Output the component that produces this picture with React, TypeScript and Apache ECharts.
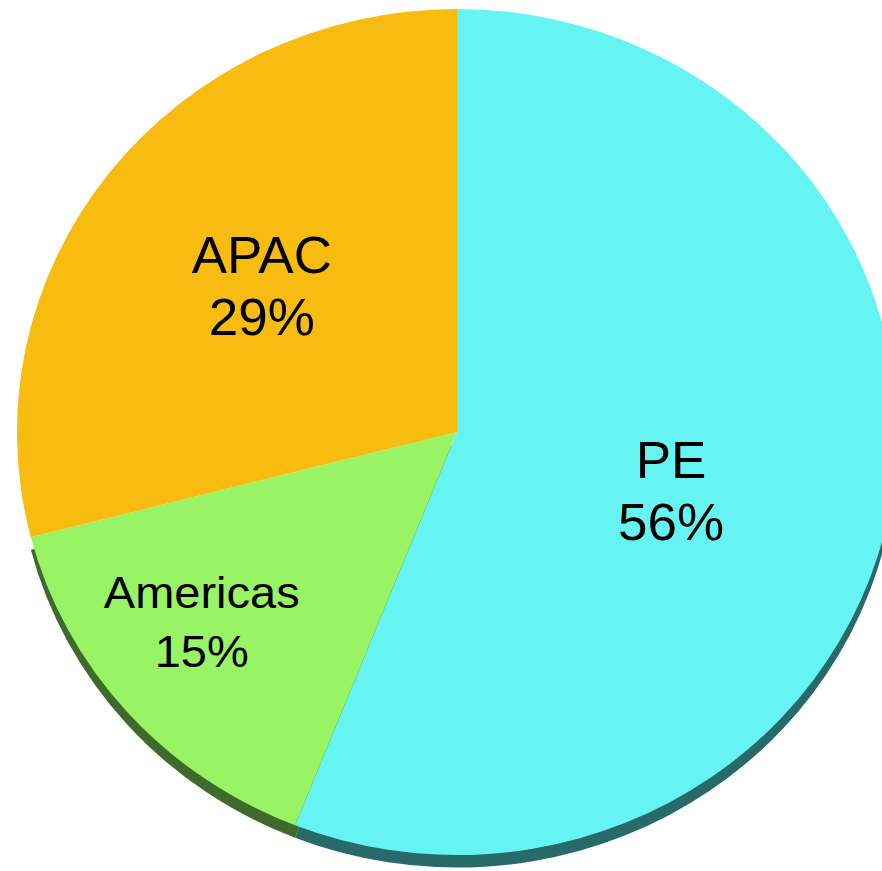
import React, { useEffect, useRef } from "react";
import * as echarts from "echarts";

const categories = ["PE", "Americas", "APAC"];
const values = [56, 15, 29];
const faceColors = ["#65F4F2", "#98F365", "#F8BB0F"];
const sideColors = ["#28696A", "#3E6A2B", "rgba(0,0,0,0)"];

const W = 882;
const H = 871;
const SY = 0.9614;
const RAW_H = H / SY;

export default function App() {
  const ref = useRef<HTMLDivElement>(null);
  useEffect(() => {
    document.body.style.margin = "0";
    const chart = echarts.init(ref.current!, null, { renderer: "svg", width: W, height: RAW_H });
    const cx = 457;
    const cy = 432 / SY;
    const r = 440;
    const labelShift: number[][] = [
      [-5, 20],
      [-88, 50],
      [-19, -15],
    ];
    const fontSizes = [53, 47, 53];
    const lineHeights = [65, 62, 65];
    chart.setOption({
      animation: false,
      series: [
        {
          type: "pie",
          silent: true,
          center: [cx, cy + 13],
          radius: [0, r],
          startAngle: 90,
          clockwise: true,
          label: { show: false },
          labelLine: { show: false },
          itemStyle: { borderWidth: 0 },
          emphasis: { disabled: true },
          data: categories.map((name, i) => ({
            name,
            value: values[i],
            itemStyle: { color: sideColors[i] },
          })),
        },
        {
          type: "pie",
          silent: true,
          center: [cx, cy],
          radius: [0, r],
          startAngle: 90,
          clockwise: true,
          avoidLabelOverlap: false,
          itemStyle: { borderWidth: 0 },
          emphasis: { disabled: true },
          label: {
            show: true,
            position: "inside",
            formatter: "{b}\n{c}%",
            color: "#000",
            fontFamily: "Liberation Sans, Arial, sans-serif",
            fontSize: 53,
            lineHeight: 65,
            align: "center",
          },
          labelLine: { show: false },
          labelLayout: (params: any) => ({
            dx: labelShift[params.dataIndex][0],
            dy: labelShift[params.dataIndex][1],
          }),
          data: categories.map((name, i) => ({
            name,
            value: values[i],
            itemStyle: { color: faceColors[i] },
            label: { fontSize: fontSizes[i], lineHeight: lineHeights[i] },
          })),
        },
      ],
    });
    return () => chart.dispose();
  }, []);
  return (
    <div style={{ width: W, height: H, overflow: "hidden", position: "relative", background: "#fff" }}>
      <div
        ref={ref}
        style={{ width: W, height: RAW_H, transform: `scaleY(${SY})`, transformOrigin: "0 0" }}
      />
    </div>
  );
}
